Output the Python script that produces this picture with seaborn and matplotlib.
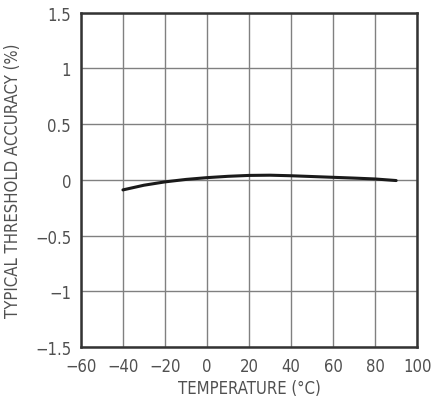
import numpy as np
import matplotlib
matplotlib.use("Agg")
import matplotlib.pyplot as plt
import seaborn as sns
import pandas as pd

# values
temp = [-40, -30, -20, -10, 0, 10, 20, 30, 40, 50, 60, 70, 80, 90]
accuracy = [-0.09, -0.048, -0.018, 0.004, 0.02, 0.032, 0.04, 0.042, 0.037, 0.03, 0.023, 0.016, 0.008, -0.006]
xticks = [-60, -40, -20, 0, 20, 40, 60, 80, 100]
yticks = [-1.5, -1, -0.5, 0, 0.5, 1, 1.5]
ytick_labels = ["\u22121.5", "\u22121", "\u22120.5", "0", "0.5", "1", "1.5"]
xtick_labels = ["\u221260", "\u221240", "\u221220", "0", "20", "40", "60", "80", "100"]

df = pd.DataFrame({"temp": temp, "acc": accuracy})

sns.set_style("white")
plt.rcParams["font.family"] = ["DejaVu Sans"]
plt.rcParams["font.stretch"] = "condensed"
txt = "#505050"

fig = plt.figure(figsize=(4.35, 4.06), dpi=100)
ax = fig.add_axes([0.186, 0.143, 0.773, 0.823])

sns.lineplot(data=df, x="temp", y="acc", ax=ax, color="#1a1a1a", linewidth=2.2)

ax.set_xlim(-60, 100)
ax.set_ylim(-1.5, 1.5)
ax.set_xticks(xticks)
ax.set_xticklabels(xtick_labels, fontstretch="condensed")
ax.set_yticks(yticks)
ax.set_yticklabels(ytick_labels, fontstretch="condensed")
ax.grid(True, color="#808080", linewidth=1.0)
ax.tick_params(length=0, labelsize=12, colors=txt, pad=7)
for s in ax.spines.values():
    s.set_color("#333333")
    s.set_linewidth(1.8)

ax.set_xlabel("TEMPERATURE (\u00b0C)", fontsize=12, color=txt, labelpad=3, fontstretch="condensed")
ax.set_ylabel("TYPICAL THRESHOLD ACCURACY (%)", fontsize=12, color=txt, labelpad=9, fontstretch="condensed")

fig.savefig("out.png", dpi=100)
